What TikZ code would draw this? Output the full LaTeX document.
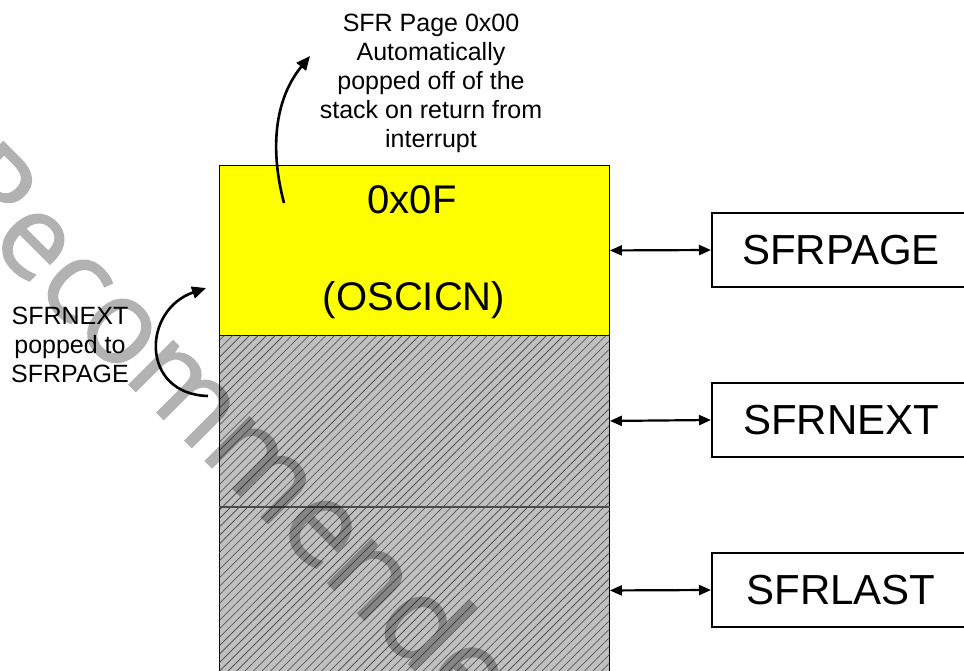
\documentclass[tikz,border=0pt]{standalone}
\usepackage{fontspec}
\setmainfont{Liberation Sans}
\newfontfamily\wmfont[FakeBold=1.3]{Open Sans}
\usetikzlibrary{arrows.meta,patterns.meta}
\definecolor{hatchgray}{HTML}{C0C0C0}
\definecolor{pureyellow}{RGB}{255,255,0}
\begin{document}
\begin{tikzpicture}[x=1pt,y=-1pt,
  stackcell/.style={draw=black, line width=0.9pt, minimum width=390pt, inner sep=0pt, anchor=north west},
  hatched/.style={fill=hatchgray, postaction={pattern={Lines[angle=45,distance=6pt,line width=0.6pt]}, pattern color=black!75}},
  regbox/.style={draw=black, line width=2pt, minimum width=258pt, minimum height=74pt, inner sep=0pt, font=\fontsize{42}{48}\selectfont},
  dbl/.style={line width=2.2pt, {Triangle[length=12pt,width=10pt]}-{Triangle[length=12pt,width=10pt]}},
  curvearrow/.style={line width=2.6pt, -{Triangle[length=14pt,width=12pt]}},
  note/.style={align=center, font=\fontsize{25}{29}\selectfont, inner sep=0pt},
  bigtext/.style={anchor=base, inner sep=0pt, font=\fontsize{40}{46}\selectfont}]
\useasboundingbox (0,0) rectangle (964,670);
\begin{scope}
\clip (0,0) rectangle (964,670);
% stack
\node[stackcell, fill=pureyellow, minimum height=170pt] (top) at (219,165) {};
\node[stackcell, hatched, minimum height=171pt] (mid) at (219,335) {};
\node[stackcell, hatched, minimum height=168pt] (low) at (219,506) {};
\draw[black!70, line width=1.4pt] (mid.south west) -- (mid.south east);
\node[bigtext] (val) at (412,213) {0x0F};
\node[bigtext] (name) at (414,310) {(OSCICN)};
% registers
\node[regbox] (pg) at (841,250) {SFRPAGE};
\node[regbox] (nx) at (841,420) {SFRNEXT};
\node[regbox] (ls) at (841,590) {SFRLAST};
\draw[dbl] (top.east) -- (pg.west);
\draw[dbl] (mid.east) -- (nx.west);
\draw[dbl] (low.east) -- (ls.west);
% notes
\node[note] (note1) at (431,83) {SFR Page 0x00\\Automatically\\popped off of the\\stack on return from\\interrupt};
\node[note] (note2) at (70,345) {SFRNEXT\\popped to\\SFRPAGE};
\coordinate (a1s) at (284,203);
\coordinate (a1e) at (310,56);
\draw[curvearrow] (a1s) .. controls (270,150) and (274,100) .. (a1e);
\coordinate (a2s) at (208,396);
\coordinate (a2e) at (206,288);
\draw[curvearrow] (a2s) .. controls (140,394) and (142,310) .. (a2e);
% watermark
\begin{scope}[transparency group, opacity=0.3]
\node[rotate=-45, font=\wmfont\fontsize{116}{120}\selectfont, text=black, inner sep=0pt] (wm) at (258,452) {Recommended};
\end{scope}
\end{scope}
\end{tikzpicture}
\end{document}
